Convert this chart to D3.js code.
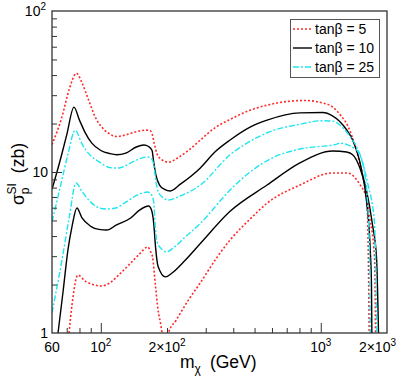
<!DOCTYPE html>
<html>
<head>
<meta charset="utf-8">
<script src="https://cdn.jsdelivr.net/npm/d3@7"></script>
<style>
  body { margin: 0; background: #fff; }
  svg { font-family: "Liberation Sans", Arial, sans-serif; }
</style>
</head>
<body>
<svg width="399" height="383"></svg>
<script>
// curves: [m_chi (GeV), sigma_p^SI (zb)]
var r5Upper = [[60,14.8],[66.6,22],[72,33],[77.5,41],[82,36],[88,28],[95,21.5],[101,19],[110,17.2],[118,16.6],[130,17],[145,17.8],[160,18.2],[167,18.1],[171,17.3],[175,15],[180,13],[188,12],[203,11.5],[225,12.3],[250,13.6],[283.5,15.8],[330,18.8],[387,21.2],[477,24.2],[570,26],[700,27.4],[850,27.8],[1000,27],[1133,25.3],[1230,22.5],[1330,19.2],[1455,13.5],[1550,9.5],[1616,7],[1640,4.0],[1660,1]];
var r5Lower = [[71.7,1],[74,1.5],[78.7,2.29],[85,2.1],[92,2.0],[101,1.96],[110,2.05],[120.6,2.29],[136.7,2.72],[150,3.1],[163.2,3.42],[168.4,3.2],[171.9,2.96],[177,2.0],[182,1.4],[186.8,1.15],[193,0.9],[198,0.85],[203,1.0],[220,1.2],[250,1.6],[280,2.0],[338,2.96],[387,3.78],[477,5.1],[570,6.4],[804,8.3],[1133,9.86],[1311,9.86],[1502,8.4],[1616,6.8],[1666,5.25],[1755,2.96],[1774,1]];
var b10Upper = [[60,7.8],[65,11.5],[70,17],[75.5,25.3],[80,21],[85,17.5],[91,15.1],[100,13.6],[110,13],[118,12.8],[130,13.1],[145,14.3],[157,14.7],[165,14.4],[171,13.6],[174,11.5],[178,9.6],[185,8.3],[195,7.8],[207,7.62],[230,8.4],[283.5,10.6],[330,13.3],[387,15.8],[477,19.0],[570,21],[804,23.3],[1021,23.4],[1130,22.3],[1219,20.6],[1310,18.3],[1396,15.8],[1533,10.3],[1616,6.5],[1680,3.2],[1700,2.0],[1707,1]];
var b10Lower = [[63.9,1],[67.5,1.85],[70.9,3.28],[74,4.6],[77.9,5.98],[82,5.2],[90,4.6],[98,4.4],[106.4,4.36],[118,4.7],[136.7,5.18],[150,5.8],[165,6.15],[170,5.8],[174,4.8],[177.4,3.4],[182,2.6],[196.8,2.23],[210,2.35],[240,2.8],[283.5,3.6],[387,5.7],[570,8.3],[804,11.4],[1133,13.5],[1311,13.3],[1396,12.8],[1502,10.7],[1616,7.6],[1719,4.7],[1792,2.96],[1830,1]];
var c25Upper = [[60,4.9],[66,8.5],[71,13],[76.5,18.2],[82,15],[90,12.6],[98,11.6],[105,10.9],[113,10.6],[121,10.6],[137,11.4],[150,12.1],[163,12.4],[170,12.1],[174,11.2],[178,8.8],[182,7.6],[190,7.0],[203,6.7],[230,7.1],[283.5,8.3],[387,12.8],[477,15.5],[600,18.0],[804,19.8],[1000,20.8],[1133,20.7],[1219,19.6],[1350,16.8],[1455,14.3],[1582,9.86],[1649,4.82],[1670,2.5],[1680,1]];
var c25Lower = [[60,1.33],[66.6,2.84],[72,5.3],[77.1,8.55],[82,7.6],[90,6.5],[98,6.0],[107,5.89],[118,6.0],[130,6.5],[147,7.2],[163,7.51],[170,7.2],[174,6.5],[177,4.5],[180,3.7],[190,3.3],[199,3.19],[215,3.4],[240,3.9],[283.5,4.8],[387,7.73],[477,10.0],[600,12.2],[804,13.9],[1182,14.9],[1219,15.1],[1455,13.7],[1632,8.55],[1755,4.82],[1797,1]];

var xTickMajor = [100, 1000];
var xTickMinor = [70, 80, 90, 200, 300, 400, 500, 600, 700, 800, 900];
var xLabelVals = [60, 100, 200, 1000, 2000];
var xLabelBase = ["60", "10", "2×10", "10", "2×10"];
var xLabelSup = ["", "2", "2", "3", "3"];
var yTickMajor = [10];
var yTickMinor = [2, 3, 4, 5, 6, 7, 8, 9, 20, 30, 40, 50, 60, 70, 80, 90];
var yLabelVals = [1, 10, 100];
var yLabelBase = ["1", "10", "10"];
var yLabelSup = ["", "", "2"];

var legendNames = ["tanβ = 5", "tanβ = 10", "tanβ = 25"];

var svg = d3.select("svg");
var padL = 52, padR = 387, padT = 11, padB = 333;

var x = d3.scaleLog().domain([60, 2000]).range([padL, padR]);
var y = d3.scaleLog().domain([1, 100]).range([padB, padT]);

var styles = [
	{color: "#ff2a2a", dash: "2,2", width: 1.6},
	{color: "#000000", dash: null, width: 1.4},
	{color: "#1ee6f0", dash: "6,2,2,2", width: 1.4}
];
var series = [
	{data: r5Upper, s: 0}, {data: r5Lower, s: 0},
	{data: b10Upper, s: 1}, {data: b10Lower, s: 1},
	{data: c25Upper, s: 2}, {data: c25Lower, s: 2}
];

svg.append("clipPath").attr("id", "plot")
	.append("rect").attr("x", padL).attr("y", padT)
	.attr("width", padR - padL).attr("height", padB - padT);

var line = d3.line()
	.x(function(d){ return x(d[0]); })
	.y(function(d){ return y(d[1]); })
	.curve(d3.curveMonotoneX);

var g = svg.append("g").attr("clip-path", "url(#plot)");
series.forEach(function(c){
	var st = styles[c.s];
	g.append("path")
		.attr("d", line(c.data))
		.attr("fill", "none")
		.attr("stroke", st.color)
		.attr("stroke-width", st.width)
		.attr("stroke-dasharray", st.dash);
});

// ticks
function tickAxis(axis, vals, size, tr){
	var a = svg.append("g").attr("transform", tr)
		.call(axis.tickValues(vals).tickSize(size).tickFormat(""));
	a.select(".domain").remove();
	a.selectAll("line").attr("stroke", "#333").attr("stroke-width", 1);
}
tickAxis(d3.axisBottom(x), xTickMinor, -5, "translate(0," + padB + ")");
tickAxis(d3.axisBottom(x), xTickMajor, -10, "translate(0," + padB + ")");
tickAxis(d3.axisLeft(y), yTickMinor, -5, "translate(" + padL + ",0)");
tickAxis(d3.axisLeft(y), yTickMajor, -10, "translate(" + padL + ",0)");

// frame
svg.append("rect")
	.attr("x", padL).attr("y", padT)
	.attr("width", padR - padL).attr("height", padB - padT)
	.attr("fill", "none").attr("stroke", "#333").attr("stroke-width", 1.3);

// tick labels
xLabelVals.forEach(function(v, i){
	var t = svg.append("text")
		.attr("x", x(v)).attr("y", 352)
		.attr("text-anchor", "middle")
		.attr("font-size", 14);
	t.append("tspan").text(xLabelBase[i]);
	if (xLabelSup[i]) t.append("tspan").attr("dy", -6).attr("font-size", 10).text(xLabelSup[i]);
	var w = t.node().getComputedTextLength();
	if (x(v) + w / 2 > 396) t.attr("x", 396 - w / 2);
});
yLabelVals.forEach(function(v, i){
	var t = svg.append("text")
		.attr("x", yLabelSup[i] ? padL - 6 : padL - 4).attr("y", y(v) + 5)
		.attr("text-anchor", "end")
		.attr("font-size", 14);
	t.append("tspan").text(yLabelBase[i]);
	if (yLabelSup[i]) t.append("tspan").attr("dy", -6).attr("font-size", 10).text(yLabelSup[i]);
});

// axis titles
var xt = svg.append("text").attr("x", 180).attr("y", 368).attr("font-size", 17.5);
xt.append("tspan").text("m");
xt.append("tspan").attr("dy", 5).attr("font-size", 12).text("χ");
xt.append("tspan").attr("dy", -5).attr("dx", 9).text("(GeV)");

var yt = svg.append("text")
	.attr("transform", "translate(24,205) rotate(-90)")
	.attr("font-size", 17.5);
yt.append("tspan").text("σ");
yt.append("tspan").attr("dy", 5).attr("font-size", 12).text("p");
yt.append("tspan").attr("dy", -13).attr("dx", -7).attr("font-size", 12).text("SI");
yt.append("tspan").attr("dy", 8).attr("dx", 10).text("(zb)");

// legend
var lg = svg.append("g");
lg.append("rect").attr("x", 290.5).attr("y", 19.5).attr("width", 89).attr("height", 58)
	.attr("fill", "#fff").attr("stroke", "#555").attr("stroke-width", 1);
legendNames.forEach(function(name, i){
	var st = styles[i], ly = 29 + i * 19;
	lg.append("line").attr("x1", 293).attr("x2", 312).attr("y1", ly).attr("y2", ly)
		.attr("stroke", st.color).attr("stroke-width", st.width)
		.attr("stroke-dasharray", st.dash);
	lg.append("text").attr("x", 315).attr("y", ly + 5).attr("font-size", 14).text(name);
});
</script>
</body>
</html>
